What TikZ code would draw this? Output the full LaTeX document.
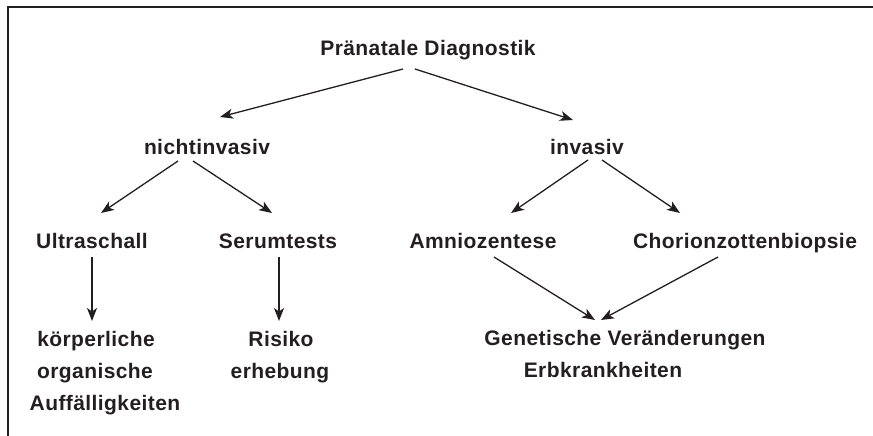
\documentclass[tikz,border=0pt]{standalone}
\usepackage{fontspec}
\setmainfont{Liberation Sans}[LetterSpace=2]
\usetikzlibrary{arrows.meta}
\definecolor{ink}{HTML}{231F20}
\begin{document}
\begin{tikzpicture}[x=1pt,y=-1pt,
  lbl/.style={anchor=base,inner sep=0pt,text=ink,font=\fontsize{21}{25}\selectfont\bfseries},
  arr/.style={draw=ink,line width=1.3pt,-{Stealth[length=13pt,width=10pt,inset=3.5pt]}},
  frame/.style={draw=ink,line width=2pt}]
\useasboundingbox (0,0) rectangle (873,436);
\draw[frame] (8,436) -- (8,7) -- (873,7);
% nodes
\node[lbl] (top) at (428,56) {Pränatale Diagnostik};
\node[lbl] (nich) at (207,154) {nichtinvasiv};
\node[lbl] (inv) at (587,154) {invasiv};
\node[lbl] (ultra) at (92,248) {Ultraschall};
\node[lbl] (serum) at (278,248) {Serumtests};
\node[lbl] (amnio) at (483,248) {Amniozentese};
\node[lbl] (chor) at (745,248) {Chorionzottenbiopsie};
\node[lbl] (koer) at (96,346) {körperliche};
\node[lbl] (org) at (95,378) {organische};
\node[lbl] (auff) at (105,410) {Auffälligkeiten};
\node[lbl] (risk) at (281,346) {Risiko};
\node[lbl] (erh) at (280,378) {erhebung};
\node[lbl] (gen) at (625,345) {Genetische Veränderungen};
\node[lbl] (erb) at (603,377) {Erbkrankheiten};
% connectors
\draw[arr] ([shift={(-25,13)}]top.base) -- ([shift={(13,-37)}]nich.base);
\draw[arr] ([shift={(-13,13)}]top.base) -- ([shift={(-14,-34)}]inv.base);
\draw[arr] ([shift={(-29,7)}]nich.base) -- ([shift={(9,-35)}]ultra.base);
\draw[arr] ([shift={(-14,7)}]nich.base) -- ([shift={(-6,-35)}]serum.base);
\draw[arr] ([shift={(1,6)}]inv.base) -- ([shift={(28,-35)}]amnio.base);
\draw[arr] ([shift={(15,6)}]inv.base) -- ([shift={(-65,-35)}]chor.base);
\draw[arr] ([shift={(0,9)}]ultra.base) -- ([shift={(-4,-25)}]koer.base);
\draw[arr] ([shift={(1,9)}]serum.base) -- ([shift={(-2,-25)}]risk.base);
\draw[arr] ([shift={(11,9)}]amnio.base) -- ([shift={(-30,-25)}]gen.base);
\draw[arr] ([shift={(-27,9)}]chor.base) -- ([shift={(-24,-25)}]gen.base);
\end{tikzpicture}
\end{document}
